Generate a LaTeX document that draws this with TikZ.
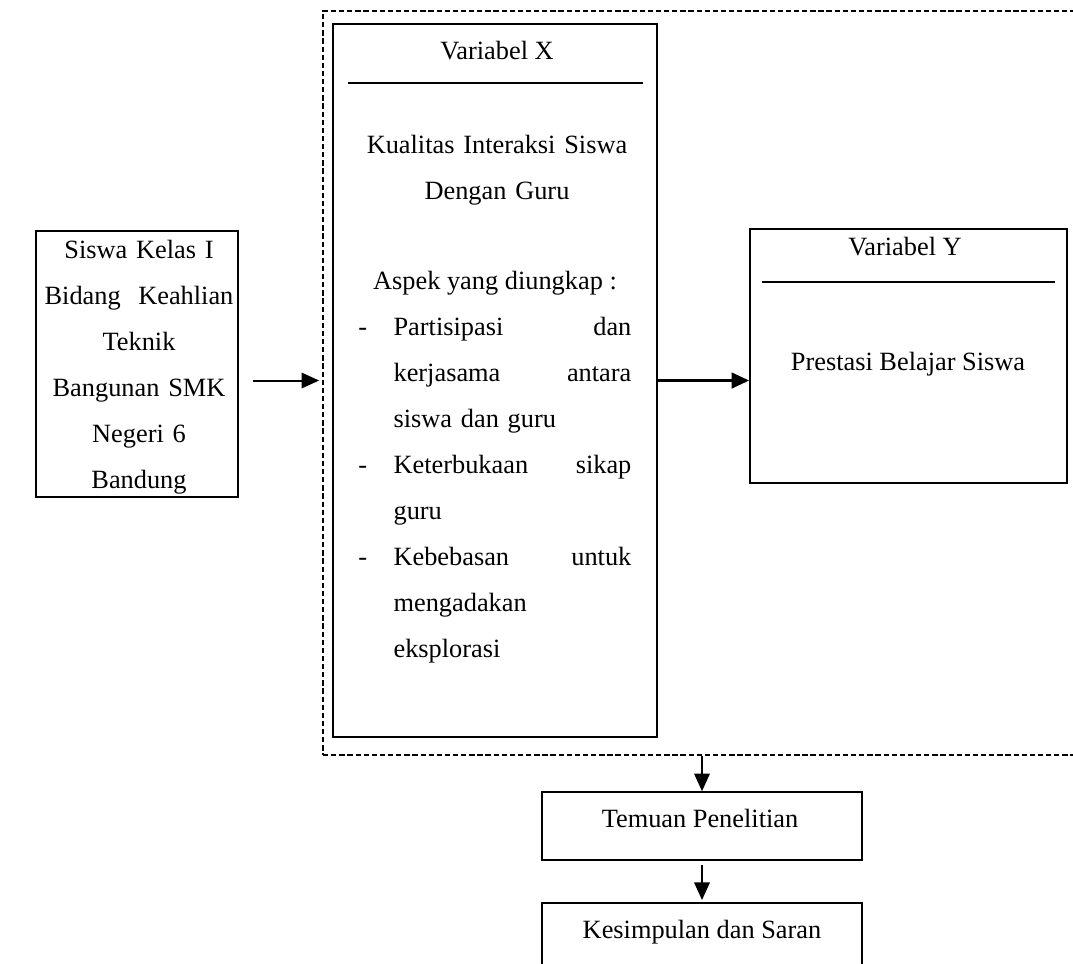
\documentclass[tikz,border=0pt]{standalone}
\usepackage{fontspec}
\setmainfont{Liberation Serif}
\usetikzlibrary{arrows.meta,fit}

\newcommand{\tanda}{\makebox[16pt][l]{-}}
\newcommand{\menjorok}{\hspace*{16pt}}

\begin{document}
\begin{tikzpicture}[x=0.016cm, y=-0.016cm,
      box/.style={draw, line width=0.7pt, inner sep=0pt},
      bingkai/.style={draw, line width=0.5pt, dash pattern=on 2.4pt off 1.3pt, inner sep=0pt},
      txt/.style={font=\fontsize{12pt}{21pt}\selectfont, inner sep=0pt},
      garis/.style={line width=0.6pt},
      arr/.style={-{Triangle[length=8pt, width=7pt]}, line width=0.9pt},
    ]
    \useasboundingbox (0,0) rectangle (1073,963);
    \clip (0,0) rectangle (1073,963);

    % Kerangka putus-putus
    \node[bingkai, fit={(323,11) (1095,755)}] (kerangka) {};

    % Kotak kiri: subjek penelitian
    \node[box, fit={(36,231) (238,497)}] (siswa) {};
    \node[txt, text width=88pt, align=center, anchor=base] (siswatxt) at (139,258)
      {Siswa Kelas I\\Bidang\ \ Keahlian\\Teknik\\Bangunan SMK\\Negeri 6\\Bandung};

    % Variabel X
    \node[box, fit={(333,24) (657,737)}] (varx) {};
    \node[txt, anchor=base] (judulx) at (497,59) {Variabel X};
    \draw[garis] (348,83) -- (643,83);
    \node[txt, text width=130pt, align=center, anchor=base] (kualitas) at (497,153)
      {Kualitas Interaksi Siswa\\Dengan Guru};
    \node[txt, anchor=base] (aspek) at (495,289) {Aspek yang diungkap :};
    \node[txt, text width=124.3pt, align=left, anchor=base west] (butir) at (358,335)
      {\tanda Partisipasi\hfill dan\\
       \menjorok kerjasama\hfill antara\\
       \menjorok siswa dan guru\\
       \tanda Keterbukaan\hfill sikap\\
       \menjorok guru\\
       \tanda Kebebasan\hfill untuk\\
       \menjorok mengadakan\\
       \menjorok eksplorasi};

    % Variabel Y
    \node[box, fit={(750,229) (1067,483)}] (vary) {};
    \node[txt, anchor=base] (juduly) at (905,255) {Variabel Y};
    \draw[garis] (762,282) -- (1055,282);
    \node[txt, anchor=base] (prestasi) at (908,370) {Prestasi Belajar Siswa};

    % Hasil
    \node[box, fit={(542,792) (862,860)}] (temuan) {};
    \node[txt, anchor=base] (temuantxt) at (700,827) {Temuan Penelitian};
    \node[box, fit={(542,903) (862,1010)}] (kesimpulan) {};
    \node[txt, anchor=base] (kesimpulantxt) at (702,938) {Kesimpulan dan Saran};

    % Panah
    \draw[arr, shorten <=6.4pt, shorten >=1.5pt] (siswa.east |- varx.west) -- (kerangka.west |- varx.west);
    \draw[arr, line width=1.4pt] (varx.east) -- (varx.east -| vary.west);
    \draw[arr] (temuan.north |- kerangka.south) -- (temuan.north);
    \draw[arr, shorten <=2pt, shorten >=1pt] (temuan.south) -- (kesimpulan.north);

\end{tikzpicture}
\end{document}
